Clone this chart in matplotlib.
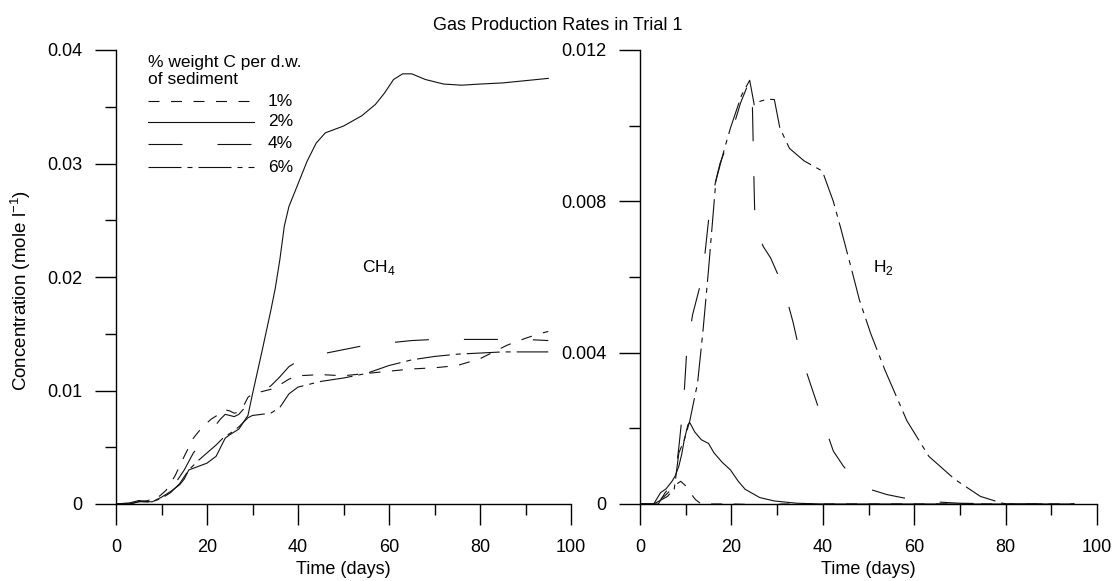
import numpy as np
import matplotlib
matplotlib.use("Agg")
import matplotlib.pyplot as plt
from matplotlib.ticker import MultipleLocator, FormatStrFormatter

plt.rcParams['font.family'] = ['Liberation Sans', 'DejaVu Sans']
plt.rcParams['lines.scale_dashes'] = False

# ---- CH4 (left panel) ----
ch4_1_x = [0, 3, 5, 7, 9, 11, 13, 15, 17, 19, 21, 23, 24, 25, 26, 27, 28, 29, 30, 32, 34, 36, 38, 40,
           45, 50, 55, 60, 65, 70, 75, 80, 83, 86, 90, 93, 95]
ch4_1_y = [0, 0, 0.0003, 0.0002, 0.0005, 0.0012, 0.0025, 0.0042, 0.0058, 0.0068, 0.0075, 0.008, 0.0083,
           0.0082, 0.008, 0.0081, 0.0086, 0.0094, 0.0097, 0.0099, 0.0101, 0.0105, 0.011, 0.0113,
           0.0114, 0.0113, 0.0115, 0.0117, 0.0119, 0.012, 0.0122, 0.0128, 0.0134, 0.014, 0.0146, 0.015, 0.0152]

ch4_2_x = [0, 3, 4, 5, 6, 8, 10, 12, 14, 15, 16, 18, 20, 22, 23, 24, 25, 27, 29, 30, 32, 34, 35, 36, 37,
           38, 40, 42, 44, 46, 50, 54, 57, 59, 61, 63, 65, 68, 72, 76, 80, 85, 90, 95]
ch4_2_y = [0, 0.0001, 0.0002, 0.0003, 0.0002, 0.0002, 0.0006, 0.0011, 0.0017, 0.0022, 0.003, 0.0033,
           0.0036, 0.0042, 0.005, 0.0058, 0.0061, 0.0066, 0.0078, 0.0097, 0.0133, 0.017, 0.019, 0.0215,
           0.0245, 0.0262, 0.0282, 0.0302, 0.0318, 0.0327, 0.0333, 0.0342, 0.0352, 0.0362, 0.0374, 0.0379,
           0.0379, 0.0374, 0.037, 0.0369, 0.037, 0.0371, 0.0373, 0.0375]

ch4_4_x = [0, 3, 5, 7, 10, 13, 15, 17, 20, 23, 24, 25, 26, 27, 29, 30, 32, 34, 36, 38, 40, 45, 50, 55,
           60, 65, 70, 80, 90, 95]
ch4_4_y = [0, 0, 0.0002, 0.0003, 0.0008, 0.0018, 0.003, 0.0045, 0.006, 0.0075, 0.0079, 0.0078, 0.0077,
           0.0079, 0.0088, 0.0095, 0.0099, 0.0104, 0.0112, 0.0121, 0.0126, 0.0132, 0.0136, 0.014, 0.0142,
           0.0144, 0.0145, 0.0145, 0.0145, 0.0144]

ch4_6_x = [0, 3, 5, 8, 10, 12, 14, 16, 18, 20, 22, 24, 25, 27, 29, 30, 32, 34, 36, 38, 40, 45, 50, 55,
           60, 65, 70, 75, 80, 85, 90, 95]
ch4_6_y = [0, 0, 0.0002, 0.0002, 0.0005, 0.001, 0.0018, 0.003, 0.0038, 0.0045, 0.0052, 0.006, 0.0062,
           0.0068, 0.0076, 0.0078, 0.0079, 0.008, 0.0085, 0.0097, 0.0103, 0.0108, 0.0111, 0.0115, 0.0122,
           0.0127, 0.013, 0.0132, 0.0133, 0.0134, 0.0134, 0.0134]

# ---- H2 (right panel) ----
h2_1_x = [0, 3, 5.3, 7, 7.7, 8.9, 10.1, 11, 12.1, 13.4, 20, 27, 29, 31, 40, 60, 80, 95]
h2_1_y = [0, 0, 0.0002, 0.0004, 0.0005, 0.0006, 0.00047, 0.0003, 0.00012, 0, 0, -0.00002, -0.00003,
          0, 0, 0, 0, 0]

h2_2_x = [0, 3, 4.5, 5.7, 7, 7.7, 8.5, 9.1, 9.7, 10.5, 10.9, 12, 13.4, 15, 16.2, 18, 19.8, 21.5, 23,
          26.2, 29.4, 34.3, 40, 60, 80, 95]
h2_2_y = [0, 0, 0.0003, 0.0004, 0.0006, 0.00074, 0.001, 0.0013, 0.0017, 0.0021, 0.00215, 0.0019, 0.0017,
          0.0016, 0.00135, 0.0011, 0.0009, 0.0006, 0.00039, 0.00017, 0.00008, 0.00002, 0, 0, 0, 0]

h2_4_x = [0, 4, 5.5, 7, 8, 8.5, 9.1, 9.7, 10.2, 11.5, 13, 14.2, 15, 16.5, 17.5, 20, 22, 24, 24.6, 25,
          25.2, 27, 28.6, 31.5, 33.5, 35, 37.5, 40, 42.3, 44.5, 47, 50, 54, 61, 70, 80, 95]
h2_4_y = [0, 0, 0.0003, 0.0005, 0.001, 0.0015, 0.0022, 0.003, 0.004, 0.005, 0.0057, 0.0066, 0.0075,
          0.0085, 0.009, 0.0098, 0.0106, 0.0112, 0.0105, 0.0082, 0.0073, 0.0068, 0.0065, 0.0057, 0.0048,
          0.004, 0.0031, 0.0022, 0.0014, 0.001, 0.00065, 0.0004, 0.00025, 0.00008, 0.00002, 0, 0]

h2_6_x = [0, 3, 6, 7.5, 8.5, 9.7, 10.9, 12.6, 13.8, 15, 16.6, 17.4, 18.5, 19.8, 22.2, 24, 25, 26.2,
          27.8, 29.4, 30.6, 32.7, 35.9, 39.9, 42.3, 43.9, 46.3, 48, 50.5, 53.6, 58.4, 63.2, 68.9, 74.5,
          79.3, 83, 86.6, 90, 93, 95]
h2_6_y = [0, 0, 0.0002, 0.0004, 0.00135, 0.0017, 0.0022, 0.0032, 0.0046, 0.0062, 0.00854, 0.0089, 0.0094,
          0.00994, 0.0108, 0.0112, 0.01055, 0.01064, 0.0107, 0.01069, 0.00994, 0.0094, 0.00907, 0.0088,
          0.008, 0.0073, 0.0062, 0.0054, 0.0045, 0.00354, 0.0022, 0.00126, 0.00065, 0.0002, 0.00002,
          -0.00004, -0.00006, -0.00006, -0.00002, 0]

labels = ['1%', '2%', '4%', '6%']
px = 0.72  # one pixel in points at dpi 100
dash_styles = [(0, (11 * px, 11.5 * px)), '-', (0, (34 * px, 35 * px)),
               (0, (33 * px, 6 * px, 5 * px, 6 * px))]

fig = plt.figure(figsize=(11.15, 5.81), dpi=100)
ax1 = fig.add_axes([116 / 1115, 77 / 581, 455 / 1115, 454 / 581])
ax2 = fig.add_axes([640 / 1115, 77 / 581, 457 / 1115, 454 / 581])

lw = 0.8
col = '#111111'
fs = 13
ch4_sets = [(ch4_1_x, ch4_1_y), (ch4_2_x, ch4_2_y), (ch4_4_x, ch4_4_y), (ch4_6_x, ch4_6_y)]
h2_sets = [(h2_1_x, h2_1_y), (h2_2_x, h2_2_y), (h2_4_x, h2_4_y), (h2_6_x, h2_6_y)]
for (x, y), ls in zip(ch4_sets, dash_styles):
    ax1.plot(x, y, color=col, lw=lw, linestyle=ls)
for (x, y), ls in zip(h2_sets, dash_styles):
    ax2.plot(x, y, color=col, lw=lw, linestyle=ls)

for ax, ymax, ymaj, ymin in [(ax1, 0.04, 0.01, 0.005), (ax2, 0.012, 0.004, 0.002)]:
    ax.set_xlim(0, 100)
    ax.set_ylim(0, ymax)
    ax.spines['top'].set_visible(False)
    ax.spines['right'].set_visible(False)
    ax.spines['left'].set_linewidth(1)
    ax.spines['bottom'].set_linewidth(1)
    ax.xaxis.set_major_locator(MultipleLocator(20))
    ax.xaxis.set_minor_locator(MultipleLocator(10))
    ax.yaxis.set_major_locator(MultipleLocator(ymaj))
    ax.yaxis.set_minor_locator(MultipleLocator(ymin))
    ax.yaxis.set_major_formatter(FormatStrFormatter('%g'))
    ax.tick_params(which='major', direction='out', length=15, width=1, labelsize=fs, pad=9)
    ax.tick_params(which='minor', direction='out', length=8, width=1)
    ax.tick_params(axis='x', which='major', pad=10)
    ax.set_xlabel('Time (days)', fontsize=fs)
    ax.xaxis.set_label_coords(0.5, -0.125)

ax1.set_ylabel('Concentration (mole l$^{\\mathregular{-1}}$)', fontsize=13.5)
ax1.yaxis.set_label_coords(-0.182, 0.47)

ax1.text(54, 0.0208, 'CH$_{\\mathregular{4}}$', fontsize=12.5, va='center')
ax2.text(51, 0.00625, 'H$_{\\mathregular{2}}$', fontsize=12.5, va='center')

fig.text(558 / 1115, 1 - 25 / 581, 'Gas Production Rates in Trial 1', fontsize=fs,
         ha='center', va='center')

# legend drawn by hand
fig.text(148 / 1115, 1 - 63 / 581, '% weight C per d.w.', fontsize=12.5, va='center')
fig.text(148 / 1115, 1 - 80 / 581, 'of sediment', fontsize=12.5, va='center')
leg_y = [101, 122, 144, 167]
for lab, ls, yy in zip(labels, dash_styles, leg_y):
    yf = 1 - yy / 581
    fig.add_artist(plt.Line2D([148 / 1115, 254 / 1115], [yf, yf], color=col, lw=lw, linestyle=ls))
    fig.text(268 / 1115, yf, lab, fontsize=12.5, va='center')

fig.savefig('out.png', dpi=100)
